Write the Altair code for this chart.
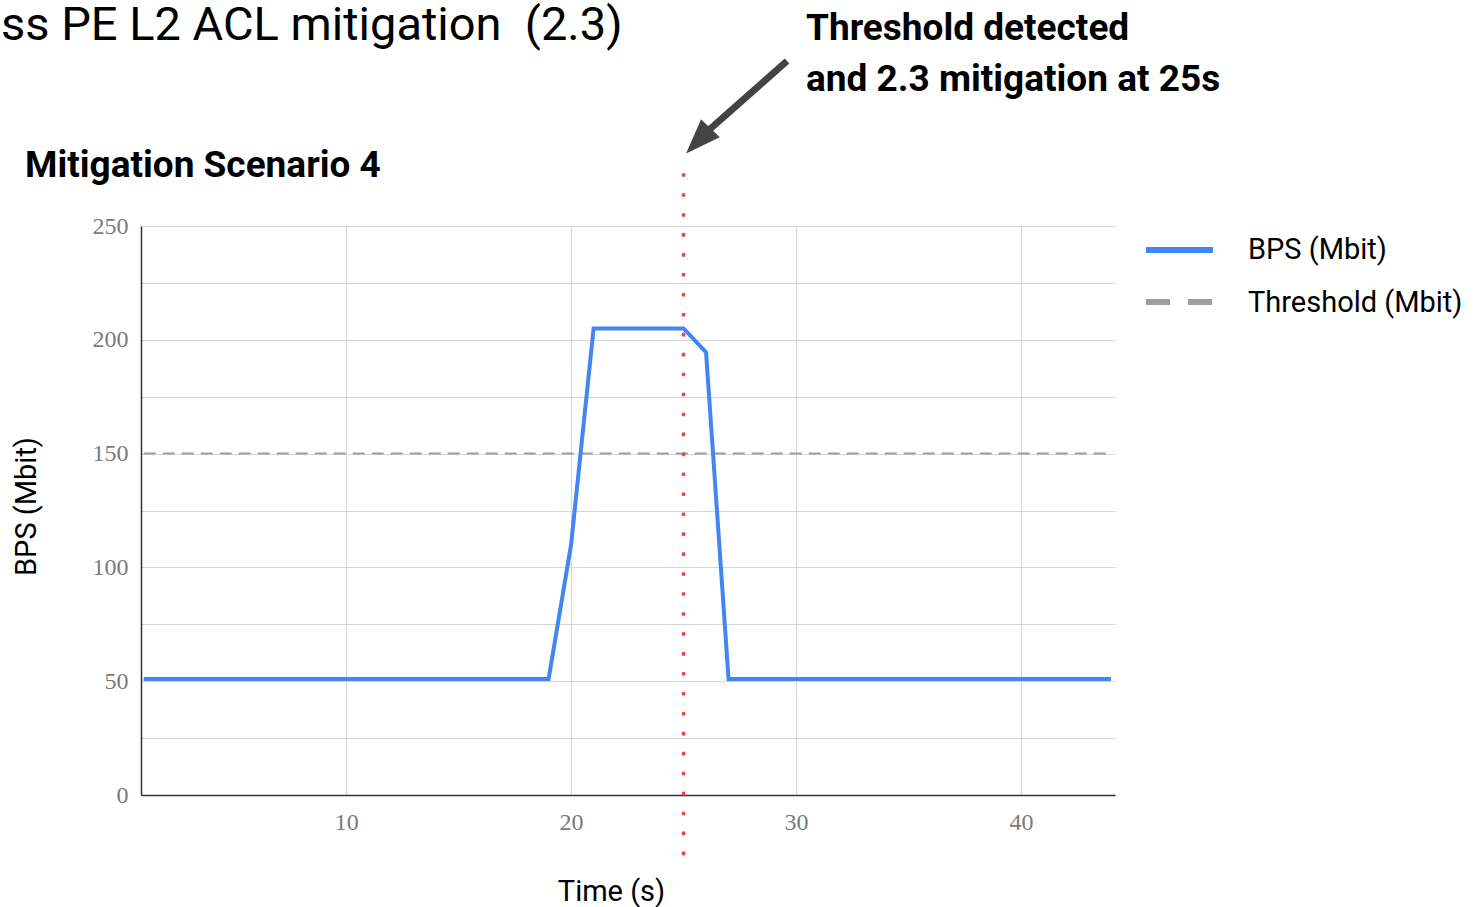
import altair as alt
import pandas as pd

# ---- data ----
time_s = [1, 2, 3, 4, 5, 6, 7, 8, 9, 10, 11, 12, 13, 14, 15, 16, 17, 18, 19, 20, 21, 22,
          23, 24, 25, 26, 27, 28, 29, 30, 31, 32, 33, 34, 35, 36, 37, 38, 39, 40, 41, 42, 43, 44]
bps_mbit = [51, 51, 51, 51, 51, 51, 51, 51, 51, 51, 51, 51, 51, 51, 51, 51, 51, 51, 51, 110,
            205, 205, 205, 205, 205, 194.5, 51, 51, 51, 51, 51, 51, 51, 51, 51, 51, 51, 51, 51,
            51, 51, 51, 51, 51]
threshold_mbit = [150, 150, 150, 150, 150, 150, 150, 150, 150, 150, 150, 150, 150, 150, 150,
                  150, 150, 150, 150, 150, 150, 150, 150, 150, 150, 150, 150, 150, 150, 150,
                  150, 150, 150, 150, 150, 150, 150, 150, 150, 150, 150, 150, 150, 150]
series_names = ["BPS (Mbit)", "Threshold (Mbit)"]
mitigation_time = [25]
x_ticks = [10, 20, 30, 40]
y_ticks = [0, 25, 50, 75, 100, 125, 150, 175, 200, 225, 250]

page_title = "ss PE L2 ACL mitigation \u00a0(2.3)"
chart_title = "Mitigation Scenario 4"
note_lines = ["Threshold detected", "and 2.3 mitigation at 25s"]

BLUE = "#4285F4"
GRAY = "#9e9e9e"
RED = "#e8474c"
W, H = 974, 569

bps_df = pd.DataFrame({"t": time_s, "v": bps_mbit})
thr_df = pd.DataFrame({"t": time_s, "v": threshold_mbit})
mit_df = pd.DataFrame({"t": mitigation_time})

xscale = alt.Scale(domain=[0.88, 44.18], nice=False, zero=False)
yscale = alt.Scale(domain=[0, 250], nice=False)

xaxis = alt.Axis(values=x_ticks, title="Time (s)", grid=True, ticks=False,
                 labelPadding=15, titleX=470, titleY=105, titleBaseline="alphabetic",
                 titleAlign="center", titleAnchor="start")
yaxis = alt.Axis(values=y_ticks, title="BPS (Mbit)", grid=True, ticks=False,
                 labelExpr="datum.value % 50 == 0 ? datum.label : ''",
                 labelPadding=13, titleX=-106, titleY=280, titleAngle=-90,
                 titleBaseline="alphabetic", titleAlign="center", titleAnchor="start")

thr = alt.Chart(thr_df).mark_line(color=GRAY, strokeWidth=2, strokeDash=[12, 7]).encode(
    x=alt.X("t:Q", scale=xscale, axis=xaxis),
    y=alt.Y("v:Q", scale=yscale, axis=yaxis),
)
bps = alt.Chart(bps_df).mark_line(color=BLUE, strokeWidth=4).encode(
    x=alt.X("t:Q", scale=xscale),
    y=alt.Y("v:Q", scale=yscale),
)
mit = alt.Chart(mit_df).mark_rule(color=RED, strokeWidth=4, strokeDash=[0.1, 19.85],
                                  strokeCap="round").encode(
    x=alt.X("t:Q", scale=xscale),
    y=alt.value(-51),
    y2=alt.value(632),
)


def text_layer(txt, x, y, size, weight="normal", color="#000", font="Roboto"):
    return alt.Chart(pd.DataFrame({"s": [txt]})).mark_text(
        align="left", baseline="alphabetic", fontSize=size, fontWeight=weight,
        color=color, font=font).encode(x=alt.value(x), y=alt.value(y), text="s:N")


t1 = text_layer(page_title, -140, -186, 47)
t2 = text_layer(chart_title, -116, -49, 37, "bold")
n1 = text_layer(note_lines[0], 665, -186, 37, "bold")
n2 = text_layer(note_lines[1], 665, -135, 37, "bold")

# arrow
shaft = alt.Chart(pd.DataFrame({"a": [0]})).mark_rule(color="#444", strokeWidth=7).encode(
    x=alt.value(646), y=alt.value(-165), x2=alt.value(560), y2=alt.value(-89))
head = alt.Chart(pd.DataFrame({"a": [0]})).mark_point(
    shape="M0,-1L0.65,0.75L-0.65,0.75Z", filled=True, color="#444", opacity=1,
    size=1600, angle=224).encode(x=alt.value(559), y=alt.value(-87))

# legend (manual)
leg_bps = alt.Chart(pd.DataFrame({"a": [0]})).mark_rule(color=BLUE, strokeWidth=6).encode(
    x=alt.value(1005), x2=alt.value(1072), y=alt.value(24))
leg_thr = alt.Chart(pd.DataFrame({"a": [0]})).mark_rule(color=GRAY, strokeWidth=6,
                                                        strokeDash=[24, 18]).encode(
    x=alt.value(1005), x2=alt.value(1072), y=alt.value(76))
l1 = text_layer(series_names[0], 1107, 33, 29)
l2 = text_layer(series_names[1], 1107, 86, 29)

chart = alt.layer(thr, bps, mit, shaft, head, t1, t2, n1, n2, leg_bps, leg_thr, l1, l2).properties(
    width=W, height=H,
    autosize=alt.AutoSizeParams(type="none"),
    padding={"left": 141, "top": 226, "right": 360, "bottom": 112},
    background="white",
).configure_view(strokeWidth=0).configure_axis(
    gridColor="#d6d6d6", gridWidth=1, domainColor="#333", domainWidth=1.5,
    labelFont="Liberation Serif", labelFontSize=24, labelColor="#7a7a7a",
    titleFont="Roboto", titleFontSize=29, titleFontWeight="normal", titleColor="#000",
)

chart.save("out.html", embed_options={"renderer": "svg", "actions": False})
